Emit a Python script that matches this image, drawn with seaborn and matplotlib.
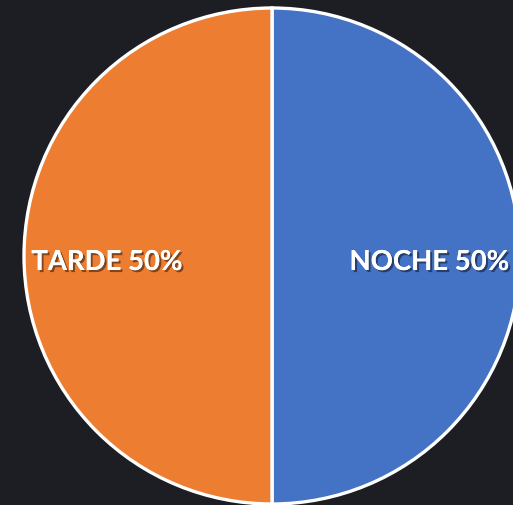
import matplotlib
matplotlib.use("Agg")
import matplotlib.pyplot as plt
import matplotlib.patheffects as pe
import seaborn as sns

sns.set_theme(style="white")
plt.rcParams['font.family'] = ['Lato', 'DejaVu Sans']

turnos = ['NOCHE', 'TARDE']
valores = [50, 50]
colores = ['#4472C4', '#ED7D31']

etiquetas = [f'{t} {v}%' for t, v in zip(turnos, valores)]

fig = plt.figure(figsize=(5.13, 5.05), dpi=100)
fig.patch.set_facecolor('#1d1e23')
ax = fig.add_axes([0, 0, 1, 1])
ax.set_facecolor('#1d1e23')

wedges, texts = ax.pie(valores, labels=etiquetas, colors=colores, startangle=90,
                       counterclock=False, center=(272, 249), radius=248,
                       labeldistance=0.65,
                       wedgeprops=dict(edgecolor='white', linewidth=2.4),
                       textprops=dict(color='white', fontsize=19.8, fontweight='bold'))
for t in texts:
    x, y = t.get_position()
    # etiquetas un poco más abajo y hacia la izquierda, como en el original
    t.set_position((x - 4, y - 6))
    t.set_ha('center')
    t.set_va('center')
    t.set_path_effects([pe.withSimplePatchShadow(offset=(1.5, -1.5), shadow_rgbFace='black', alpha=0.45),
                        pe.Normal()])

ax.set_xlim(0, 513)
ax.set_ylim(0, 505)
ax.axis('off')

fig.savefig('out.png', dpi=100, facecolor=fig.get_facecolor())
